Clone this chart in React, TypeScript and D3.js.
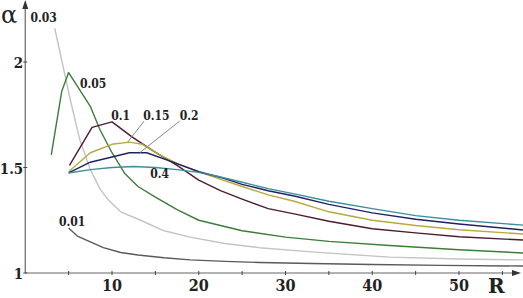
import React from 'react';
import * as d3 from 'd3';

const r01 = [5, 6, 7.5, 9, 11, 13, 16, 19, 23, 27, 33, 40, 48, 57.4];
const a01 = [1.213, 1.175, 1.147, 1.12, 1.097, 1.085, 1.072, 1.062, 1.055, 1.05, 1.045, 1.04, 1.036, 1.033];

const r03 = [3.4, 5.2, 6.3, 7.5, 8.6, 9.5, 11, 13.3, 16, 19, 23, 27, 33, 42, 50, 57.4];
const a03 = [2.16, 1.82, 1.63, 1.49, 1.4, 1.35, 1.29, 1.25, 1.2, 1.17, 1.14, 1.12, 1.1, 1.075, 1.066, 1.062];

const r05 = [3, 4.2, 5, 7.5, 8.6, 10, 11.5, 13, 15, 17.5, 20, 25, 30, 35, 42, 50, 57.4];
const a05 = [1.56, 1.86, 1.95, 1.79, 1.68, 1.57, 1.47, 1.41, 1.36, 1.3, 1.25, 1.2, 1.17, 1.15, 1.13, 1.11, 1.095];

const r1 = [5.1, 7.7, 10, 12.3, 14.7, 17.5, 20, 22.5, 25, 28, 31, 35, 40, 45, 50, 57.4];
const a1 = [1.51, 1.69, 1.716, 1.645, 1.58, 1.51, 1.44, 1.39, 1.35, 1.305, 1.28, 1.245, 1.21, 1.19, 1.172, 1.156];

const r15 = [5, 7.5, 10, 12, 13.5, 15.5, 17.5, 20, 22.8, 25, 28, 31, 35, 40, 45, 50, 57.4];
const a15 = [1.48, 1.57, 1.61, 1.62, 1.61, 1.56, 1.52, 1.48, 1.44, 1.41, 1.37, 1.34, 1.29, 1.25, 1.225, 1.205, 1.185];

const r2 = [5, 7.5, 10, 12, 14, 16.7, 20, 22.8, 25, 28, 31, 35, 40, 45, 50, 57.4];
const a2 = [1.474, 1.525, 1.55, 1.57, 1.57, 1.53, 1.48, 1.45, 1.42, 1.39, 1.365, 1.325, 1.285, 1.255, 1.232, 1.204];

const r4 = [5, 7.5, 10, 12.5, 15, 17.5, 20, 22.5, 25, 28, 31, 35, 40, 45, 50, 57.4];
const a4 = [1.474, 1.49, 1.5, 1.505, 1.5, 1.49, 1.477, 1.455, 1.43, 1.4, 1.375, 1.34, 1.305, 1.272, 1.25, 1.227];

const seriesNames = ['0.01', '0.03', '0.05', '0.1', '0.15', '0.2', '0.4'];
const seriesR = [r01, r03, r05, r1, r15, r2, r4];
const seriesA = [a01, a03, a05, a1, a15, a2, a4];
const seriesColors = ['#5a5a5a', '#c4c4c4', '#3c7d3a', '#4c1a33', '#b8aa3c', '#202262', '#3b8e9c'];

const xTicks = [10, 20, 30, 40, 50];
const xMinor = [5, 15, 25, 35, 45, 55];
const yTicks = [1, 1.5, 2];

// label positions given in data coordinates: [R, alpha]
const labelPos: [number, number][] = [
  [3.9, 1.222],
  [0.6, 2.19],
  [6.3, 1.877],
  [9.9, 1.725],
  [13.6, 1.725],
  [17.8, 1.725],
  [14.4, 1.45],
];

const W = 523;
const H = 298;

export default function App() {
  const x = d3.scaleLinear().domain([0, 10]).range([25.25, 112]);
  const y = d3.scaleLinear().domain([1, 2]).range([273, 62]);
  const line = d3.line<number>();
  const font = "'DejaVu Serif', serif";
  const condensed = "'DejaVu Serif Condensed', 'DejaVu Serif', serif";

  const x0 = x(0);
  const y0 = y(1);
  const axisColor = '#666';

  return (
    <svg width={W} height={H} style={{ position: 'absolute', left: 0, top: 0, background: '#fff' }}>
      {/* curves */}
      {seriesR.map((rs, i) => (
        <path
          key={seriesNames[i]}
          d={line(rs.map((r, j) => [x(r), y(seriesA[i][j])]) as any) || ''}
          fill="none"
          stroke={seriesColors[i]}
          strokeWidth={1.4}
          strokeLinejoin="round"
        />
      ))}

      {/* leader lines for 0.15 and 0.2 */}
      <line x1={x(13.7)} y1={y(1.72)} x2={x(11.8)} y2={y(1.62)} stroke="#888" strokeWidth={1} />
      <line x1={x(17.8)} y1={y(1.72)} x2={x(13.2)} y2={y(1.57)} stroke="#888" strokeWidth={1} />

      {/* axes */}
      <line x1={x0} y1={y0} x2={x0} y2={4} stroke={axisColor} strokeWidth={1.2} />
      <path d={`M${x0 - 3},${9} L${x0},${0} L${x0 + 3},${9} Z`} fill="#333" />
      <line x1={x0} y1={y0} x2={515} y2={y0} stroke={axisColor} strokeWidth={1.2} />
      <path d={`M${512},${y0 - 3} L${521},${y0} L${512},${y0 + 3} Z`} fill="#333" />

      {xMinor.concat(xTicks).map((t) => (
        <line key={'xt' + t} x1={x(t)} x2={x(t)} y1={y0 - 2} y2={y0 + 2} stroke="#444" strokeWidth={1} />
      ))}
      {yTicks.map((t) => (
        <line key={'yt' + t} x1={x0 - 2} x2={x0 + 2} y1={y(t)} y2={y(t)} stroke="#444" strokeWidth={1} />
      ))}

      {xTicks.map((t) => (
        <text
          key={'xl' + t}
          x={x(t)}
          y={y0 + 18}
          textAnchor="middle"
          fontFamily={condensed}
          fontWeight="bold"
          fontSize={16}
          fill="#222"
        >
          {t}
        </text>
      ))}
      {yTicks.map((t) => (
        <text
          key={'yl' + t}
          x={x0 - 2}
          y={y(t) + 6}
          textAnchor="end"
          fontFamily={condensed}
          fontWeight="bold"
          fontSize={15}
          fill="#222"
        >
          {t}
        </text>
      ))}

      <text x={488} y={293} fontFamily={font} fontWeight="bold" fontSize={20} fill="#222">R</text>
      <text x={1} y={23} fontFamily={font} fontSize={24} fill="#222">α</text>

      {/* curve labels */}
      {seriesNames.map((n, i) => (
        <text
          key={'cl' + n}
          x={x(labelPos[i][0])}
          y={y(labelPos[i][1])}
          fontFamily={condensed}
          fontWeight="bold"
          fontSize={12}
          fill="#222"
        >
          {n}
        </text>
      ))}
    </svg>
  );
}
